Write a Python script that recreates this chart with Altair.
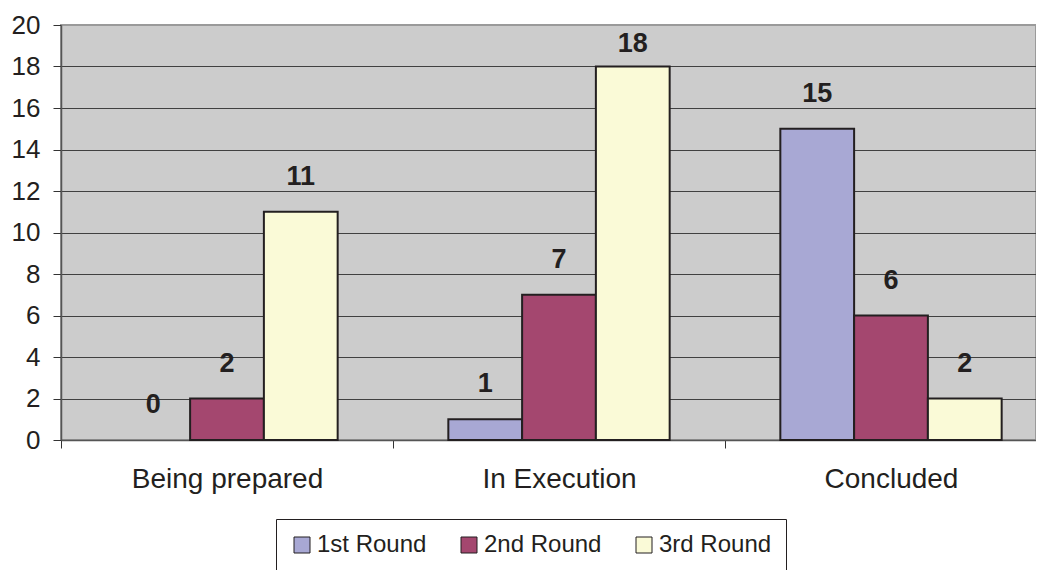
import altair as alt
import pandas as pd

categories = ["Being prepared", "In Execution", "Concluded"]
rounds = ["1st Round", "2nd Round", "3rd Round"]
first_round = [0, 1, 15]
second_round = [2, 7, 6]
third_round = [11, 18, 2]
colors = ["#a8a8d4", "#a4476f", "#fafad7"]
y_ticks = list(range(0, 21, 2))

rows = []
for r, vals in zip(rounds, [first_round, second_round, third_round]):
    for c, v in zip(categories, vals):
        rows.append({"category": c, "round": r, "value": v})
df = pd.DataFrame(rows)

FONT = "Liberation Sans"
INK = "#231f20"

x_enc = alt.X(
    "category:N",
    sort=categories,
    title=None,
    scale=alt.Scale(range=[0, 996], paddingInner=0, paddingOuter=0),
    axis=alt.Axis(tickBand="extent", labelAngle=0, grid=False),
)
xoff_enc = alt.XOffset(
    "round:N", sort=rounds, scale=alt.Scale(paddingOuter=0.75, paddingInner=0)
)
y_scale = alt.Scale(domain=[0, 20], nice=False)
y_axis = alt.Axis(
    values=y_ticks,
    grid=True,
    gridColor={
        "condition": {"test": "datum.value === 20", "value": "#9a9a9a"},
        "value": "#404040",
    },
)

bars = alt.Chart(df).mark_bar(stroke=INK, strokeWidth=2).encode(
    x=x_enc,
    xOffset=xoff_enc,
    y=alt.Y("value:Q", title=None, scale=y_scale, axis=y_axis),
    strokeOpacity=alt.condition(alt.datum.value == 0, alt.value(0), alt.value(1)),
    color=alt.Color(
        "round:N",
        sort=rounds,
        scale=alt.Scale(domain=rounds, range=colors),
        legend=alt.Legend(
            title=None,
            orient="none",
            direction="horizontal",
            columns=3,
            legendX=215,
            legendY=494,
            symbolType="square",
            symbolSize=256,
            symbolStrokeColor=INK,
            symbolStrokeWidth=1,
            symbolOpacity=1,
            labelFontSize=24,
            labelFont=FONT,
            labelColor=INK,
            labelOffset=3,
            columnPadding=30,
            padding=14,
            strokeColor=INK,
            fillColor="white",
        ),
    ),
)

labels = (
    alt.Chart(df)
    .transform_calculate(label_y="min(datum.value, 17.4)")
    .mark_text(
        font=FONT,
        fontSize=27,
        fontWeight="bold",
        color=INK,
        baseline="alphabetic",
        dy=-27,
    )
    .encode(
        x=x_enc,
        xOffset=xoff_enc,
        y=alt.Y("label_y:Q", title=None, scale=y_scale, axis=y_axis),
        text=alt.Text("value:Q"),
    )
)

chart = (
    alt.layer(bars, labels)
    .properties(
        width=975,
        height=415,
        padding={"left": 53, "top": 17, "right": 0, "bottom": 130},
        autosize=alt.AutoSizeParams(type="none"),
        background="white",
    )
    .configure_view(fill="#cccccc", stroke="#9a9a9a", strokeWidth=2)
    .configure_axisX(
        tickSize=8,
        tickColor="#333333",
        tickWidth=1,
        domainColor="#555555",
        domainWidth=1.5,
        labelFontSize=28,
        labelFont=FONT,
        labelColor=INK,
        labelBaseline="alphabetic",
        labelPadding=39,
        labelLimit=500,
    )
    .configure_axisY(
        tickSize=8,
        tickColor="#333333",
        tickWidth=1,
        domainColor="#555555",
        domainWidth=1.5,
        labelFontSize=26,
        labelFont=FONT,
        labelColor=INK,
        labelPadding=13,
        gridWidth=1,
    )
)

chart.save("out.html", embed_options={"renderer": "svg", "actions": False})
